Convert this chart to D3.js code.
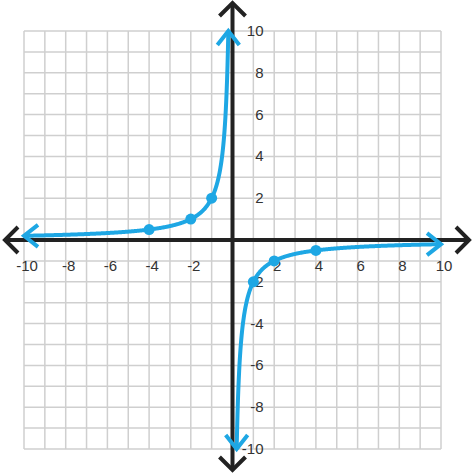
<!DOCTYPE html>
<html><head><meta charset="utf-8">
<script src="https://cdn.jsdelivr.net/npm/d3@7"></script>
<style>body{margin:0;background:#fff}text{font-family:Arial,"Liberation Sans",sans-serif;font-size:15px;fill:#333}</style>
</head><body>
<svg id="c" width="474" height="473"></svg>
<script>
// y = -2/x
var pointsX = [-4, -2, -1, 1, 2, 4];
var xTicks = [-10, -8, -6, -4, -2, 2, 4, 6, 8, 10];
var yTicks = [-10, -8, -6, -4, -2, 2, 4, 6, 8, 10];
var f = function(x){ return -2 / x };

var svg = d3.select("#c");
var x = d3.scaleLinear().domain([-10, 10]).range([24, 441]);
var y = d3.scaleLinear().domain([-10, 10]).range([449, 31]);

var grid = svg.append("g").attr("stroke", "#cfcfcf").attr("stroke-width", 1.5);
d3.range(-10, 11).forEach(function(i){
  grid.append("line").attr("x1", x(i)).attr("x2", x(i)).attr("y1", y(10)).attr("y2", y(-10));
  grid.append("line").attr("y1", y(i)).attr("y2", y(i)).attr("x1", x(-10)).attr("x2", x(10));
});

var ax = svg.append("g").attr("stroke", "#222").attr("stroke-width", 4).attr("fill", "none");
ax.append("line").attr("x1", 5).attr("x2", 469).attr("y1", y(0)).attr("y2", y(0));
ax.append("line").attr("y1", 3).attr("y2", 470).attr("x1", x(0)).attr("x2", x(0));
ax.append("path").attr("d", "M18," + (y(0)-13) + "L5," + y(0) + "L18," + (y(0)+13));
ax.append("path").attr("d", "M456," + (y(0)-13) + "L469," + y(0) + "L456," + (y(0)+13));
ax.append("path").attr("d", "M" + (x(0)-13) + ",16L" + x(0) + ",3L" + (x(0)+13) + ",16");
ax.append("path").attr("d", "M" + (x(0)-13) + ",457L" + x(0) + ",470L" + (x(0)+13) + ",457");

svg.selectAll(".xl").data(xTicks).enter().append("text")
  .attr("x", function(d){ return x(d) + 3 }).attr("y", y(0) + 31)
  .attr("text-anchor", "middle").text(function(d){ return d });
svg.selectAll(".yl").data(yTicks).enter().append("text")
  .attr("x", x(0) + 31).attr("y", function(d){ return y(d) + 5 })
  .attr("text-anchor", "end").text(function(d){ return d });

var line = d3.line().x(function(d){ return x(d) }).y(function(d){ return y(f(d)) }).curve(d3.curveLinear);
var left = d3.range(-10, -0.2, 0.02).concat([-0.2]);
var right = [0.2].concat(d3.range(0.22, 10.001, 0.02));
var blue = "#1ea7e4";
[left, right].forEach(function(seg){
  svg.append("path").datum(seg).attr("d", line).attr("fill", "none")
    .attr("stroke", blue).attr("stroke-width", 4);
});
var chev = svg.append("g").attr("stroke", blue).attr("stroke-width", 4).attr("fill", "none");
chev.append("path").attr("d", "M" + (x(-10)+14) + "," + (y(0.2)-11) + "L" + x(-10) + "," + y(0.2) + "L" + (x(-10)+14) + "," + (y(0.2)+11));
chev.append("path").attr("d", "M" + (x(10)-14) + "," + (y(-0.2)-11) + "L" + x(10) + "," + y(-0.2) + "L" + (x(10)-14) + "," + (y(-0.2)+11));
chev.append("path").attr("d", "M" + (x(-0.2)-11) + "," + (y(10)+14) + "L" + x(-0.2) + "," + y(10) + "L" + (x(-0.2)+11) + "," + (y(10)+14));
chev.append("path").attr("d", "M" + (x(0.2)-11) + "," + (y(-10)-14) + "L" + x(0.2) + "," + y(-10) + "L" + (x(0.2)+11) + "," + (y(-10)-14));

svg.selectAll(".pt").data(pointsX).enter().append("circle")
  .attr("cx", function(d){ return x(d) }).attr("cy", function(d){ return y(f(d)) })
  .attr("r", 5.5).attr("fill", blue);
</script>
</body></html>
